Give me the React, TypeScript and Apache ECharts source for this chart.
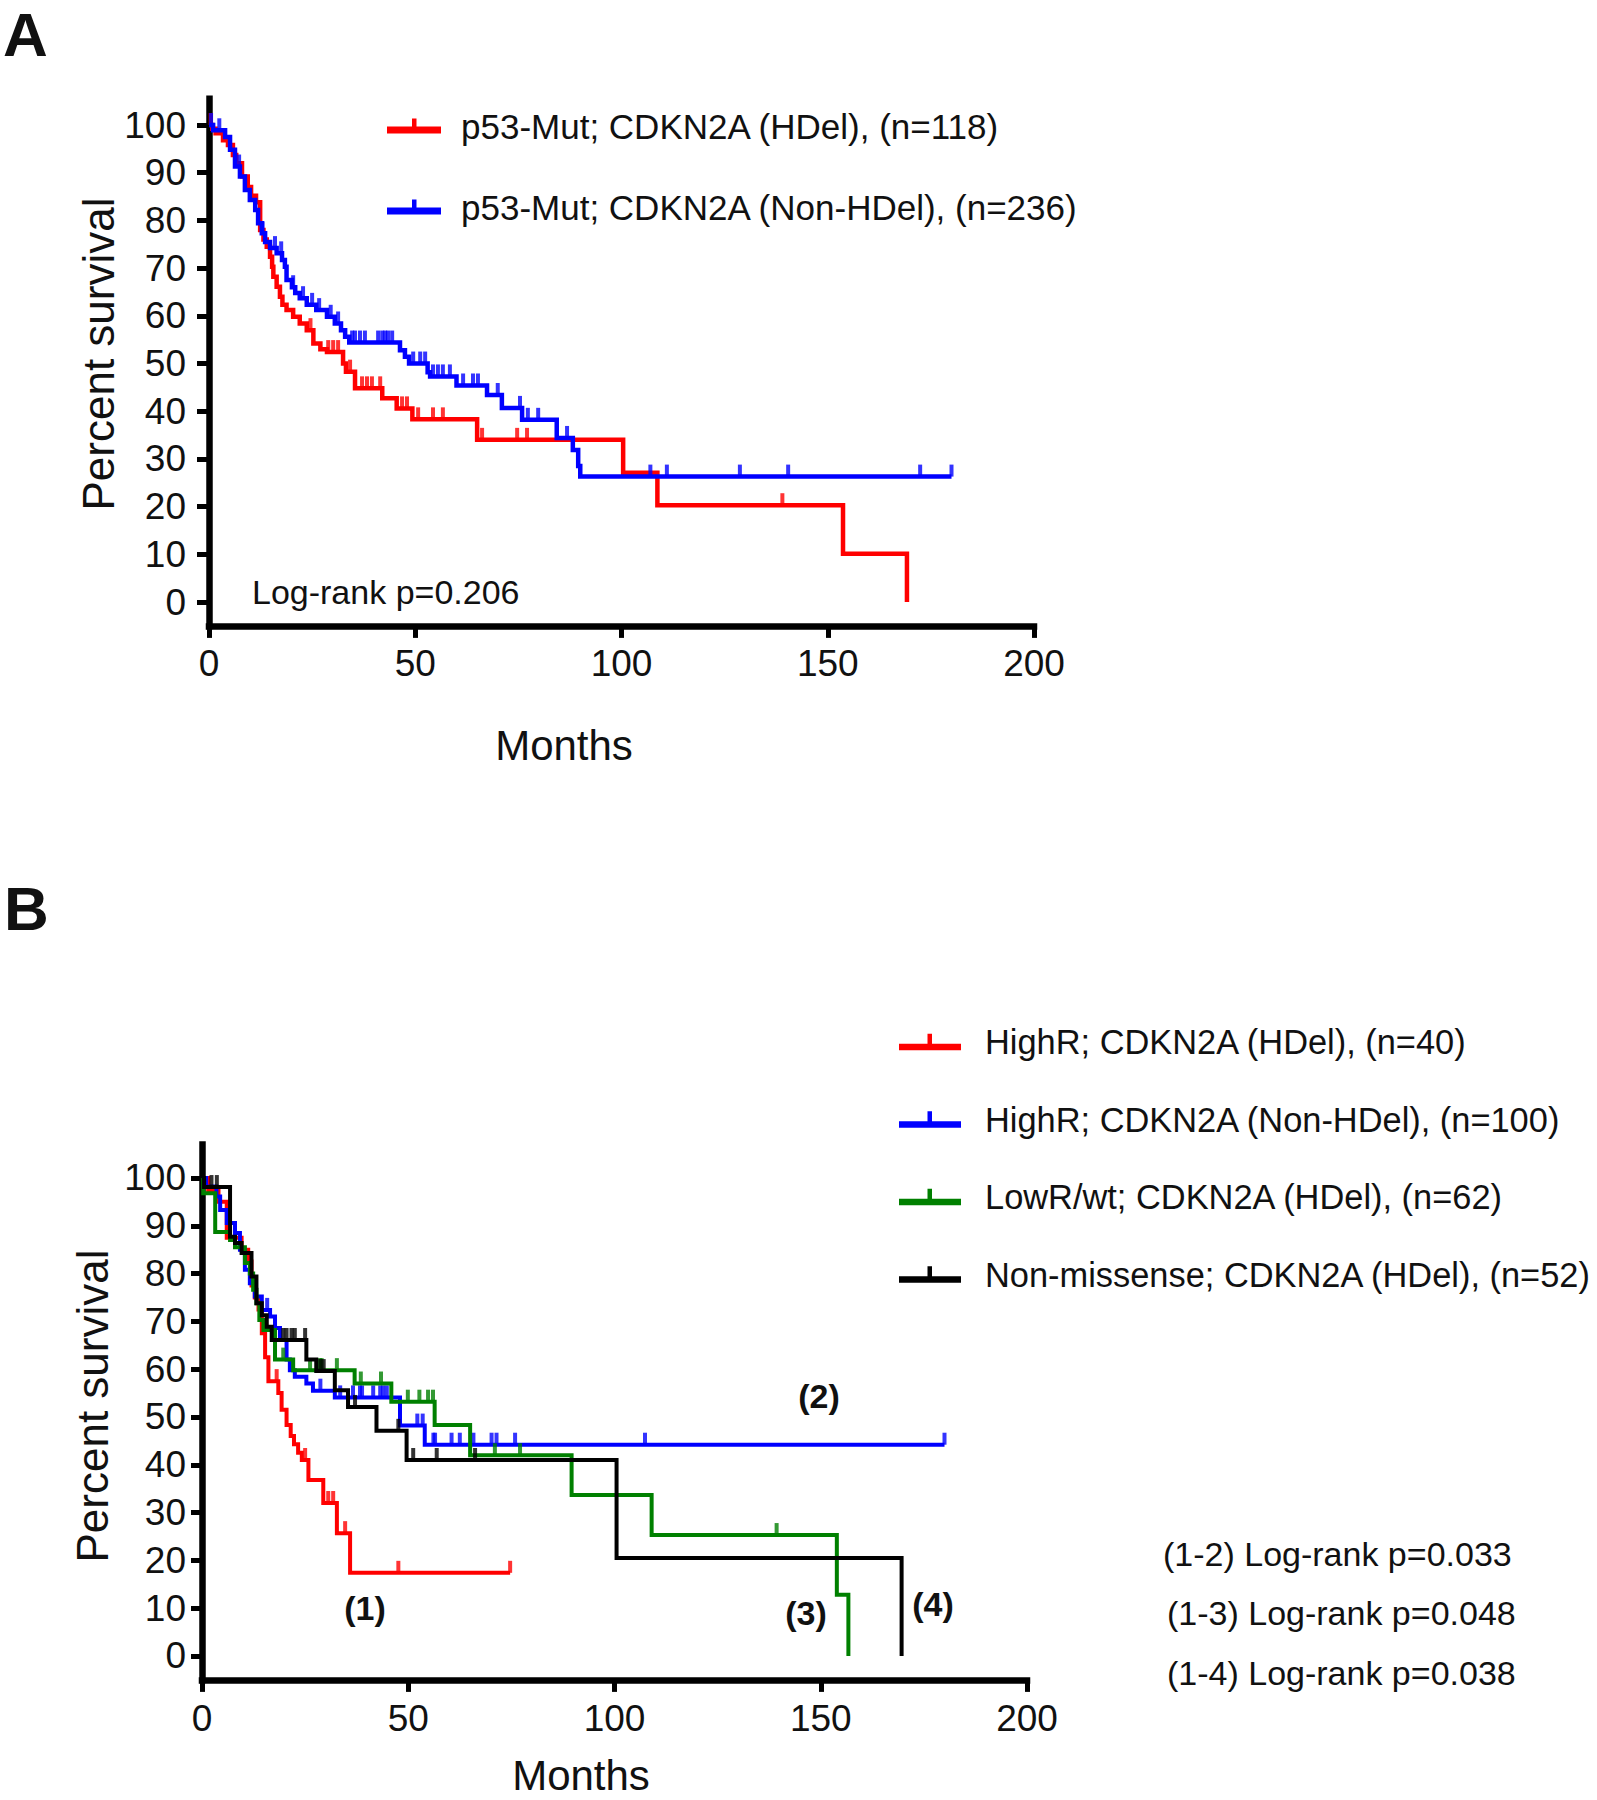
import React, { useEffect, useRef } from 'react';
import * as echarts from 'echarts';

const FONT = '"Liberation Sans", Arial, Helvetica, sans-serif';

// ---------- axis ticks ----------
const yTickValues = [0, 10, 20, 30, 40, 50, 60, 70, 80, 90, 100];
const xMax = 200;
const xInterval = 50;

// ---------- Panel A ----------
const aRedName = 'p53-Mut; CDKN2A (HDel), (n=118)';
const aBlueName = 'p53-Mut; CDKN2A (Non-HDel), (n=236)';

const aRedT = [0, 0.8, 1.6, 3.4, 4.6, 5.8, 6.6, 8, 9.4, 10.2, 11.4, 12.4, 13.2, 14, 14.8, 15.3, 15.6, 16.4, 17.2, 17.8, 18.8, 20.4, 22, 23.7, 25.3, 27, 28.6, 32.5, 33.2, 35.4, 42, 45.5, 49.3, 65, 100.4, 108.7, 153.7, 169.2];
const aRedS = [100, 99.2, 98.3, 96.8, 95.8, 93.7, 92, 89.2, 87, 85.2, 83.8, 78, 76, 74.5, 72.4, 70.3, 68.2, 66.1, 64, 62.3, 61.2, 59.8, 58.4, 57, 54.2, 53, 52.4, 50, 48.3, 44.8, 42.7, 40.6, 38.3, 34, 27.1, 20.3, 10.1, 0];
const aRedCens = [0.4, 24.6, 28.9, 30.1, 31.3, 34.2, 37.1, 38.3, 39.5, 41.5, 46.8, 48, 50.7, 54.3, 56.7, 66.2, 74.7, 77.1, 139];

const aBlueT = [0, 1, 3.9, 5.1, 6.3, 7.5, 8.7, 9.9, 11.2, 11.9, 12.8, 13.6, 14.8, 16.4, 17.7, 18.4, 18.8, 20.1, 20.9, 22, 23.7, 26, 28.6, 30.5, 32, 33, 34, 46.3, 47.5, 48.5, 53, 53.6, 60, 67.4, 71, 75.9, 84.3, 88.2, 89.5, 90];
const aBlueS = [100, 98.9, 97.5, 94.8, 91.3, 89.2, 86.4, 84.3, 82.2, 79.4, 77.3, 75.5, 74.2, 73.1, 71.7, 70.3, 67.5, 66, 64.8, 63.7, 62.3, 61.2, 59.8, 58.4, 57, 55.6, 54.4, 52.8, 51.4, 50, 48.2, 47.3, 45.4, 43.4, 40.7, 38.2, 34.4, 31.9, 28.5, 26.3];
const aBlueCens = [0.5, 2.5, 7.3, 13, 16, 17.5, 20.4, 22.8, 25, 26.7, 29.5, 31.3, 34.7, 35.4, 36.6, 37.8, 41, 42, 42.7, 43.4, 44.4, 49.5, 51.2, 52.4, 54.3, 55.5, 56.7, 58.4, 61.6, 64, 65.2, 70, 75.4, 77.3, 79.8, 86.8, 107, 111, 128.7, 140.4, 172.4, 180];

// ---------- Panel B ----------
const bRedName = 'HighR; CDKN2A (HDel), (n=40)';
const bBlueName = 'HighR; CDKN2A (Non-HDel), (n=100)';
const bGreenName = 'LowR/wt; CDKN2A (HDel), (n=62)';
const bBlackName = 'Non-missense; CDKN2A (HDel), (n=52)';

const bRedT = [0, 1.5, 4, 6, 9.6, 11.2, 12, 12.8, 13.7, 14.5, 15.3, 16.1, 18.5, 19.3, 20.5, 21.5, 22.3, 23.3, 24.2, 25.8, 29.4, 32.7, 35.9];
const bRedS = [100, 97.5, 95, 87.5, 85, 82.5, 77.5, 75, 72.5, 67.5, 62.5, 57.5, 55, 51.5, 48.3, 46, 44.3, 42.5, 41, 36.8, 32, 25.7, 17.4];
const bRedCens = [18.1, 25, 30.6, 31.8, 34.7, 47.6, 74.7];

const bBlueT = [0, 1, 3.5, 4.4, 6, 8, 9.2, 10.4, 11.6, 12.8, 14.5, 16.5, 17.7, 18.9, 20.5, 21.3, 22.5, 25.3, 26.9, 32.2, 48, 54];
const bBlueS = [100, 98.2, 96.1, 93.3, 90.6, 88.5, 85, 80.8, 78, 75.2, 72.4, 71, 68.6, 66.1, 62, 59.8, 58.4, 57, 55.5, 54.1, 48.2, 44.2];
const bBlueCens = [15.8, 28.7, 33.5, 36.6, 38.3, 38.8, 41.5, 43.2, 43.9, 44.8, 52.2, 53.5, 56.1, 56.5, 60.5, 62.5, 65.8, 70.2, 71.4, 75.9, 107.4, 180];

const bGreenT = [0, 0.3, 3.2, 6.8, 8, 10.4, 11.6, 12.4, 13.2, 13.9, 14.9, 17.7, 22.1, 37, 45.9, 56.4, 65, 89.6, 109, 153.9, 156.7];
const bGreenS = [100, 96.8, 88.7, 87, 85.5, 82.2, 80, 76.6, 73.8, 70.3, 68.2, 62, 59.8, 57, 53.2, 48.3, 42, 33.7, 25.3, 12.8, 0];
const bGreenCens = [19.7, 26.2, 28.6, 29, 32.7, 38.5, 43.4, 49.9, 52.7, 54.8, 56, 71, 77.1, 139.3];

const bBlackT = [0, 0.5, 6.8, 8, 9.6, 12, 13.2, 14.5, 15.7, 16.9, 25.3, 27.7, 32.2, 35.4, 42.3, 49.6, 100.5, 169.6];
const bBlackS = [100, 98.1, 87.7, 86.4, 84.3, 79.4, 73.8, 71.3, 68.9, 66.1, 62, 59.6, 55.6, 52.1, 47.1, 41, 20.5, 0];
const bBlackCens = [2.3, 3.6, 19.7, 20.5, 21.7, 22.5, 25, 28.7, 29.5, 37.1, 47.6, 51.2, 56.9, 66.2];

const pValueTexts = ['(1-2) Log-rank p=0.033', '(1-3) Log-rank p=0.048', '(1-4) Log-rank p=0.038'];

// ---------- helpers ----------
function stepData(t: number[], s: number[], cens: number[]) {
  const pts = t.map((x, i) => [x, s[i]]);
  const lastT = t[t.length - 1];
  const end = Math.max(lastT, ...cens);
  if (end > lastT) pts.push([end, s[s.length - 1]]);
  return pts;
}
function survAt(t: number[], s: number[], x: number) {
  let v = s[0];
  for (let i = 0; i < t.length; i++) if (t[i] <= x) v = s[i];
  return v;
}

const RED = '#ff0000';
const BLUE = '#0000ff';
const GREEN = '#008000';
const BLACK = '#000000';

const curves = [
  { g: 0, name: aRedName, t: aRedT, s: aRedS, c: aRedCens, color: RED },
  { g: 0, name: aBlueName, t: aBlueT, s: aBlueS, c: aBlueCens, color: BLUE },
  { g: 1, name: bRedName, t: bRedT, s: bRedS, c: bRedCens, color: RED },
  { g: 1, name: bBlueName, t: bBlueT, s: bBlueS, c: bBlueCens, color: BLUE },
  { g: 1, name: bGreenName, t: bGreenT, s: bGreenS, c: bGreenCens, color: GREEN },
  { g: 1, name: bBlackName, t: bBlackT, s: bBlackS, c: bBlackCens, color: BLACK },
];

function buildOption() {
  const series: any[] = [];
  curves.forEach((cv, i) => {
    const lw = cv.g === 0 ? 4.5 : 4;
    series.push({
      type: 'line',
      name: cv.name,
      xAxisIndex: cv.g,
      yAxisIndex: cv.g,
      data: stepData(cv.t, cv.s, cv.c),
      step: 'end',
      symbol: 'none',
      showSymbol: false,
      lineStyle: { color: cv.color, width: lw, join: 'miter', cap: 'butt' },
      itemStyle: { color: cv.color },
      z: 3 + i,
      silent: true,
    });
    series.push({
      type: 'scatter',
      name: cv.name + ' censored',
      xAxisIndex: cv.g,
      yAxisIndex: cv.g,
      data: cv.c.map((x) => [x, survAt(cv.t, cv.s, x)]),
      symbol: 'rect',
      symbolSize: [4, 12],
      symbolOffset: [0, -6],
      itemStyle: { color: cv.color },
      z: 3 + i,
      silent: true,
    });
  });

  const axisLine = { show: true, onZero: false, lineStyle: { color: '#000', width: 6.5, cap: 'square' } };
  const axisTick = { show: true, length: 12, lineStyle: { color: '#000', width: 5 } };
  const labelStyle = { color: '#111', fontSize: 37, fontFamily: FONT };

  const xAxisCfg = (g: number, margin: number) => ({
    gridIndex: g,
    type: 'value',
    min: 0,
    max: xMax,
    interval: xInterval,
    axisLine,
    axisTick,
    axisLabel: { ...labelStyle, margin },
    splitLine: { show: false },
  });
  const yAxisCfg = (g: number, min: number, max: number, margin: number, tickLen: number) => ({
    gridIndex: g,
    type: 'value',
    min,
    max,
    axisLine,
    axisTick: { ...axisTick, length: tickLen, customValues: yTickValues },
    axisLabel: { ...labelStyle, margin, customValues: yTickValues },
    splitLine: { show: false },
  });

  const iconA = 'path://M0,8H54V15H0Z M25,0H29.5V8H25Z';
  const iconB = 'path://M0,10H62V16.5H0Z M28.5,0H33V10H28.5Z';

  const legendCommon = {
    orient: 'vertical',
    padding: 0,
    selectedMode: false,
  };

  const txt = (text: string, x: number, y: number, size: number, opts: any = {}) => ({
    type: 'text',
    x,
    y,
    rotation: opts.rotation || 0,
    silent: true,
    style: {
      text,
      x: 0,
      y: 0,
      fill: '#111',
      font: `${opts.bold ? 'bold ' : ''}${size}px ${FONT}`,
      align: opts.align || 'center',
      verticalAlign: 'middle',
    },
  });

  return {
    animation: false,
    backgroundColor: '#ffffff',
    grid: [
      { left: 209, top: 98.8, width: 825, height: 527.1, containLabel: false },
      { left: 202, top: 1144.5, width: 825, height: 535.4, containLabel: false },
    ],
    xAxis: [xAxisCfg(0, 19), xAxisCfg(1, 20)],
    yAxis: [yAxisCfg(0, -5, 105.5, 23, 12), yAxisCfg(1, -5, 107, 16, 11)],
    legend: [
      {
        ...legendCommon,
        left: 387,
        top: 108.5,
        itemGap: 46,
        itemWidth: 54,
        itemHeight: 15,
        icon: iconA,
        textStyle: { fontSize: 35, fontFamily: FONT, color: '#111', padding: [0, 0, 0, 15] },
        data: [
          { name: aRedName, itemStyle: { color: RED, borderWidth: 0 } },
          { name: aBlueName, itemStyle: { color: BLUE, borderWidth: 0 } },
        ],
      },
      {
        ...legendCommon,
        left: 899,
        top: 1025,
        itemGap: 43.5,
        itemWidth: 62,
        itemHeight: 16.5,
        icon: iconB,
        textStyle: { fontSize: 34.4, fontFamily: FONT, color: '#111', padding: [0, 0, 0, 19] },
        data: [
          { name: bRedName, itemStyle: { color: RED, borderWidth: 0 } },
          { name: bBlueName, itemStyle: { color: BLUE, borderWidth: 0 } },
          { name: bGreenName, itemStyle: { color: GREEN, borderWidth: 0 } },
          { name: bBlackName, itemStyle: { color: BLACK, borderWidth: 0 } },
        ],
      },
    ],
    graphic: [
      txt('A', 3, 34, 62, { bold: true, align: 'left' }),
      txt('B', 4, 908, 62, { bold: true, align: 'left' }),
      txt('Percent survival', 98, 354, 44, { rotation: Math.PI / 2 }),
      txt('Months', 564, 745, 42),
      txt('Log-rank p=0.206', 252, 592, 34, { align: 'left' }),
      txt('Percent survival', 92, 1406, 44, { rotation: Math.PI / 2 }),
      txt('Months', 581, 1775, 42),
      txt('(1)', 365, 1608, 34, { bold: true }),
      txt('(2)', 819, 1396, 34, { bold: true }),
      txt('(3)', 806, 1613, 34, { bold: true }),
      txt('(4)', 933, 1604, 34, { bold: true }),
      txt(pValueTexts[0], 1163, 1554, 34, { align: 'left' }),
      txt(pValueTexts[1], 1167, 1613, 34, { align: 'left' }),
      txt(pValueTexts[2], 1167, 1673, 34, { align: 'left' }),
    ],
    series,
  };
}

export default function App() {
  const ref = useRef<HTMLDivElement>(null);
  useEffect(() => {
    document.body.style.margin = '0';
    if (!ref.current) return;
    const chart = echarts.init(ref.current, null, { renderer: 'svg' });
    chart.setOption(buildOption() as any);
    return () => chart.dispose();
  }, []);
  return <div ref={ref} style={{ width: 1597, height: 1800, background: '#fff' }} />;
}
